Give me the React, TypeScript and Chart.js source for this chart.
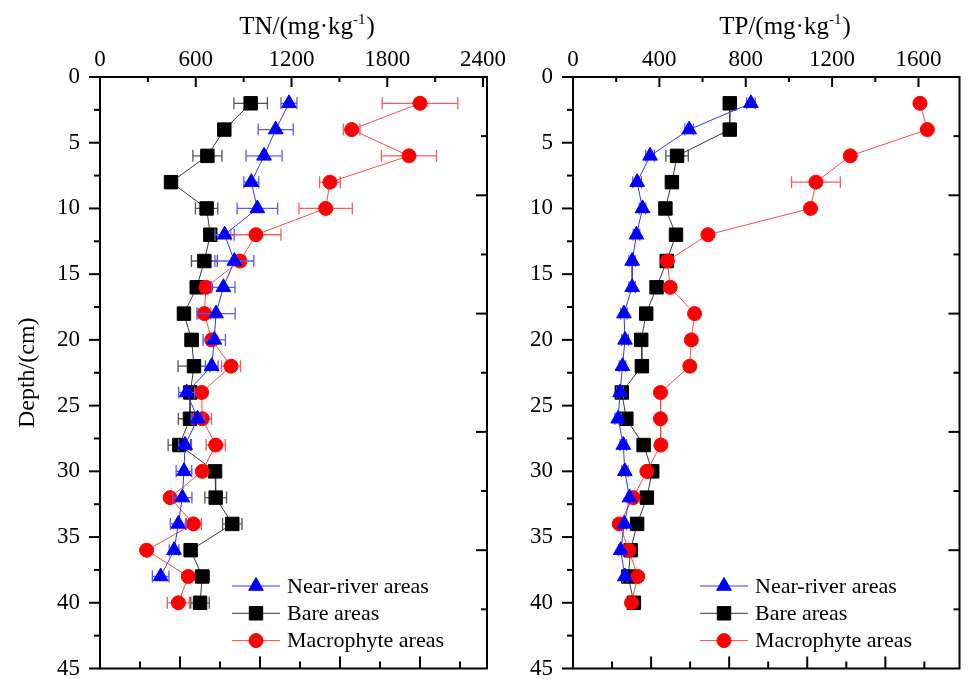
import React, { useEffect, useRef } from "react";
import { Chart, registerables } from "chart.js";

Chart.register(...registerables);
Chart.defaults.font.family = "'Liberation Serif', 'Times New Roman', serif";
Chart.defaults.color = "#000";

// ---------------- DATA ----------------
const depths = [2, 4, 6, 8, 10, 12, 14, 16, 18, 20, 22, 24, 26, 28, 30, 32, 34, 36, 38, 40];
const nearDepths = [2, 4, 6, 8, 10, 12, 14, 16, 18, 20, 22, 24, 26, 28, 30, 32, 34, 36, 38];

const seriesLabels = ["Near-river areas", "Bare areas", "Macrophyte areas"];

// TN (mg/kg)
const tnNear = [1184, 1101, 1028, 948, 986, 781, 842, 773, 727, 716, 700, 543, 612, 533, 526, 516, 491, 464, 380];
const tnNearErr = [50, 110, 113, 47, 127, 60, 122, 73, 120, 70, 40, 50, 40, 40, 49, 60, 50, 30, 52];
const tnBare = [944, 779, 673, 445, 668, 691, 654, 606, 526, 574, 589, 566, 564, 497, 721, 725, 829, 568, 641, 627];
const tnBareErr = [105, 30, 91, 20, 70, 30, 81, 30, 25, 40, 100, 30, 73, 70, 30, 68, 61, 20, 44, 58];
const tnMacro = [2005, 1577, 1936, 1441, 1414, 977, 877, 664, 654, 700, 821, 637, 641, 725, 641, 439, 585, 292, 553, 491];
const tnMacroErr = [237, 52, 173, 65, 167, 157, 30, 30, 40, 30, 60, 20, 58, 60, 20, 20, 50, 10, 20, 69];

// TP (mg/kg)
const tpNear = [824, 538, 357, 297, 322, 294, 274, 274, 236, 241, 229, 218, 209, 233, 240, 262, 238, 221, 240];
const tpNearErr = [20, 20, 20, 20, 15, 15, 15, 15, 15, 15, 15, 15, 15, 15, 15, 10, 10, 10, 10];
const tpBare = [726, 726, 482, 458, 428, 477, 434, 387, 339, 316, 319, 226, 247, 327, 367, 342, 297, 267, 256, 282];
const tpBareErr = [10, 10, 52, 10, 10, 10, 10, 10, 10, 10, 10, 10, 10, 10, 10, 10, 10, 10, 10, 10];
const tpMacro = [1607, 1641, 1284, 1125, 1100, 625, 437, 450, 563, 548, 541, 405, 405, 407, 342, 279, 214, 259, 300, 271];
const tpMacroErr = [10, 10, 10, 113, 10, 10, 10, 10, 10, 20, 10, 10, 10, 10, 10, 10, 10, 10, 10, 10];

// tick labels
const tnTicks = [0, 600, 1200, 1800, 2400];
const tpTicks = [0, 400, 800, 1200, 1600];
const depthTicks = [0, 5, 10, 15, 20, 25, 30, 35, 40, 45];

// ---------------- STYLE ----------------
const styles = [
  { marker: "#0000FF", line: "#3535FF", err: "#5a5aff", pointStyle: "triangle", radius: 8.5, order: 0 },
  { marker: "#000000", line: "#3a3a3a", err: "#555555", pointStyle: "rect", radius: 9.5, order: 2 },
  { marker: "#FF0000", line: "#FF4a4a", err: "#FF5a5a", pointStyle: "circle", radius: 7, order: 1 },
];

function drawMarker(ctx: CanvasRenderingContext2D, style: string, x: number, y: number, r: number, color: string) {
  ctx.save();
  ctx.fillStyle = color;
  ctx.strokeStyle = color;
  ctx.lineWidth = 1;
  ctx.beginPath();
  if (style === "triangle") {
    ctx.moveTo(x, y - r);
    ctx.lineTo(x + 0.866 * r, y + 0.5 * r);
    ctx.lineTo(x - 0.866 * r, y + 0.5 * r);
    ctx.closePath();
  } else if (style === "rect") {
    const s = Math.SQRT1_2 * r;
    ctx.rect(x - s, y - s, 2 * s, 2 * s);
  } else {
    ctx.arc(x, y, r, 0, Math.PI * 2);
  }
  ctx.fill();
  ctx.stroke();
  ctx.restore();
}

// ---------------- PLUGINS ----------------
const errorBarPlugin = {
  id: "errorBars",
  beforeDatasetDraw(chart: any, args: any) {
    const ds = chart.data.datasets[args.index];
    if (!ds.errors) return;
    const xs = chart.scales.x;
    const ys = chart.scales.y;
    const ctx = chart.ctx;
    ctx.save();
    ctx.strokeStyle = ds.errorColor;
    ctx.lineWidth = 1.3;
    const cap = 6;
    ds.data.forEach((p: any, i: number) => {
      const e = ds.errors[i];
      if (!e) return;
      const y = ys.getPixelForValue(p.y);
      const x1 = xs.getPixelForValue(p.x - e);
      const x2 = xs.getPixelForValue(p.x + e);
      ctx.beginPath();
      ctx.moveTo(x1, y);
      ctx.lineTo(x2, y);
      ctx.moveTo(x1, y - cap);
      ctx.lineTo(x1, y + cap);
      ctx.moveTo(x2, y - cap);
      ctx.lineTo(x2, y + cap);
      ctx.stroke();
    });
    ctx.restore();
  },
};

const frameTicksPlugin = {
  id: "frameTicks",
  afterDraw(chart: any, _args: any, opts: any) {
    const { ctx, chartArea: a, scales } = chart;
    const { x, y, x2, y2 } = scales;
    ctx.save();
    ctx.strokeStyle = "#000";
    ctx.lineWidth = 2;
    const seg = (ax: number, ay: number, bx: number, by: number) => {
      ctx.beginPath();
      ctx.moveTo(ax, ay);
      ctx.lineTo(bx, by);
      ctx.stroke();
    };
    // top axis ticks (inward)
    const minor = opts.xStep / 2;
    for (let k = 0; k * minor <= x.max + 1e-9; k++) {
      const px = x.getPixelForValue(k * minor);
      seg(px, a.top, px, a.top + (k % 2 === 0 ? 10 : 5));
    }
    // left axis ticks (outward)
    for (let k = 0; k * 2.5 <= 45 + 1e-9; k++) {
      const py = y.getPixelForValue(k * 2.5);
      seg(a.left, py, a.left - (k % 2 === 0 ? 11 : 6), py);
    }
    // bottom mirror axis ticks (inward)
    for (let k = 1; k <= x2.max + 1e-9; k++) {
      const px = x2.getPixelForValue(k);
      seg(px, a.bottom, px, a.bottom - (k % 2 === 0 ? 12 : 7));
    }
    // right mirror axis ticks (inward)
    for (let k = 1; k * 5 < 50; k++) {
      const py = y2.getPixelForValue(k * 5);
      seg(a.right, py, a.right - (k % 2 === 0 ? 11 : 6), py);
    }
    // frame
    ctx.strokeRect(a.left, a.top, a.right - a.left, a.bottom - a.top);
    ctx.restore();
  },
};

const titlePlugin = {
  id: "supTitle",
  afterDraw(chart: any, _args: any, opts: any) {
    const ctx = chart.ctx;
    const fam = "'Liberation Serif', 'Times New Roman', serif";
    const main = "25px " + fam;
    const sup = "15px " + fam;
    ctx.save();
    ctx.fillStyle = "#000";
    ctx.textBaseline = "alphabetic";
    ctx.textAlign = "left";
    ctx.font = main;
    const w1 = ctx.measureText(opts.main).width;
    const w3 = ctx.measureText(")").width;
    ctx.font = sup;
    const w2 = ctx.measureText(opts.sup).width;
    let xx = opts.center - (w1 + w2 + w3 + 1) / 2;
    const base = 34;
    ctx.font = main;
    ctx.fillText(opts.main, xx, base);
    xx += w1;
    ctx.font = sup;
    ctx.fillText(opts.sup, xx, base - 10);
    xx += w2 + 1;
    ctx.font = main;
    ctx.fillText(")", xx, base);
    ctx.restore();
  },
};

const legendPlugin = {
  id: "innerLegend",
  afterDraw(chart: any, _args: any, opts: any) {
    const ctx = chart.ctx;
    ctx.save();
    chart.data.datasets.forEach((ds: any, i: number) => {
      const yy = opts.y + i * opts.gap;
      ctx.strokeStyle = ds.borderColor;
      ctx.lineWidth = 1;
      ctx.beginPath();
      ctx.moveTo(opts.x, yy);
      ctx.lineTo(opts.x + 48, yy);
      ctx.stroke();
      drawMarker(ctx, ds.pointStyle, opts.x + 24, yy, ds.pointRadius, ds.pointBackgroundColor);
      ctx.fillStyle = "#000";
      ctx.font = "22px 'Liberation Serif', 'Times New Roman', serif";
      ctx.textBaseline = "middle";
      ctx.textAlign = "left";
      ctx.fillText(ds.label, opts.x + 55, yy + 1);
    });
    ctx.restore();
  },
};

// ---------------- CONFIG ----------------
type PanelCfg = {
  left: number;
  width: number;
  yAxisWidth: number;
  padRight: number;
  xMax: number;
  x2Max: number;
  xStep: number;
  xTicks: number[];
  yTitle: boolean;
  titleMain: string;
  titleCenter: number;
  legendX: number;
  series: { vals: number[]; errs: number[]; ds: number[] }[];
};

function zeroPad(s: any) {
  s.paddingLeft = 0;
  s.paddingRight = 0;
  s.paddingTop = 0;
  s.paddingBottom = 0;
}

function buildConfig(cfg: PanelCfg): any {
  const datasets = cfg.series.map((s, i) => {
    const st = styles[i];
    return {
      label: seriesLabels[i],
      data: s.vals.map((v, j) => ({ x: v, y: s.ds[j] })),
      errors: s.errs,
      errorColor: st.err,
      showLine: true,
      borderColor: st.line,
      borderWidth: 1,
      pointStyle: st.pointStyle,
      pointRadius: st.radius,
      pointBorderWidth: 1,
      pointBackgroundColor: st.marker,
      pointBorderColor: st.marker,
      tension: 0,
      order: st.order,
      clip: false,
    };
  });
  const hidden = {
    ticks: { display: false },
    grid: { display: false, drawTicks: false },
    border: { display: false },
  };
  return {
    type: "scatter",
    data: { datasets },
    options: {
      responsive: false,
      animation: false,
      devicePixelRatio: 1,
      layout: { padding: { left: 0, top: 0, right: cfg.padRight, bottom: 10 } },
      plugins: {
        legend: { display: false },
        tooltip: { enabled: false },
        frameTicks: { xStep: cfg.xStep },
        supTitle: { main: cfg.titleMain, sup: "-1", center: cfg.titleCenter },
        innerLegend: { x: cfg.legendX, y: 586, gap: 27.3 },
      },
      scales: {
        x: {
          type: "linear",
          position: "top",
          min: 0,
          max: cfg.xMax,
          afterBuildTicks: (s: any) => {
            s.ticks = cfg.xTicks.map((v) => ({ value: v }));
          },
          afterFit: (s: any) => {
            s.height = 77;
            zeroPad(s);
          },
          grid: { display: false, drawTicks: false },
          border: { display: false },
          ticks: {
            padding: 3,
            color: "#000",
            font: { size: 23 },
            callback: (v: any) => String(v),
          },
        },
        y: {
          type: "linear",
          position: "left",
          reverse: true,
          min: 0,
          max: 45,
          afterBuildTicks: (s: any) => {
            s.ticks = depthTicks.map((v) => ({ value: v }));
          },
          afterFit: (s: any) => {
            s.width = cfg.yAxisWidth;
            zeroPad(s);
          },
          grid: { display: false, drawTicks: false },
          border: { display: false },
          ticks: { padding: 20, color: "#000", font: { size: 23 }, callback: (v: any) => String(v) },
          title: {
            display: cfg.yTitle,
            text: "Depth/(cm)",
            color: "#000",
            font: { size: 24 },
            padding: { top: 13, bottom: 0 },
          },
        },
        x2: {
          type: "linear",
          position: "bottom",
          min: 0,
          max: cfg.x2Max,
          afterFit: (s: any) => {
            s.height = 0;
            zeroPad(s);
          },
          ...hidden,
        },
        y2: {
          type: "linear",
          position: "right",
          reverse: true,
          min: 0,
          max: 50,
          afterFit: (s: any) => {
            s.width = 0;
            zeroPad(s);
          },
          ...hidden,
        },
      },
    },
    plugins: [errorBarPlugin, frameTicksPlugin, titlePlugin, legendPlugin],
  };
}

const leftPanel: PanelCfg = {
  left: 0,
  width: 530,
  yAxisWidth: 100,
  padRight: 43,
  xMax: 2425,
  x2Max: 9.675,
  xStep: 600,
  xTicks: tnTicks,
  yTitle: true,
  titleMain: "TN/(mg·kg",
  titleCenter: 307,
  legendX: 232,
  series: [
    { vals: tnNear, errs: tnNearErr, ds: nearDepths },
    { vals: tnBare, errs: tnBareErr, ds: depths },
    { vals: tnMacro, errs: tnMacroErr, ds: depths },
  ],
};

const rightPanel: PanelCfg = {
  left: 490,
  width: 480,
  yAxisWidth: 83,
  padRight: 1,
  xMax: 1790,
  x2Max: 9.9,
  xStep: 400,
  xTicks: tpTicks,
  yTitle: false,
  titleMain: "TP/(mg·kg",
  titleCenter: 295,
  legendX: 210,
  series: [
    { vals: tpNear, errs: tpNearErr, ds: nearDepths },
    { vals: tpBare, errs: tpBareErr, ds: depths },
    { vals: tpMacro, errs: tpMacroErr, ds: depths },
  ],
};

function Panel({ cfg }: { cfg: PanelCfg }) {
  const ref = useRef<HTMLCanvasElement>(null);
  useEffect(() => {
    const chart = new Chart(ref.current as HTMLCanvasElement, buildConfig(cfg));
    return () => chart.destroy();
  }, [cfg]);
  return (
    <canvas
      ref={ref}
      width={cfg.width}
      height={679}
      style={{ position: "absolute", left: cfg.left, top: 0, width: cfg.width, height: 679 }}
    />
  );
}

export default function App() {
  return (
    <div style={{ position: "fixed", left: 0, top: 0, width: 970, height: 679, background: "#fff" }}>
      <Panel cfg={leftPanel} />
      <Panel cfg={rightPanel} />
    </div>
  );
}
